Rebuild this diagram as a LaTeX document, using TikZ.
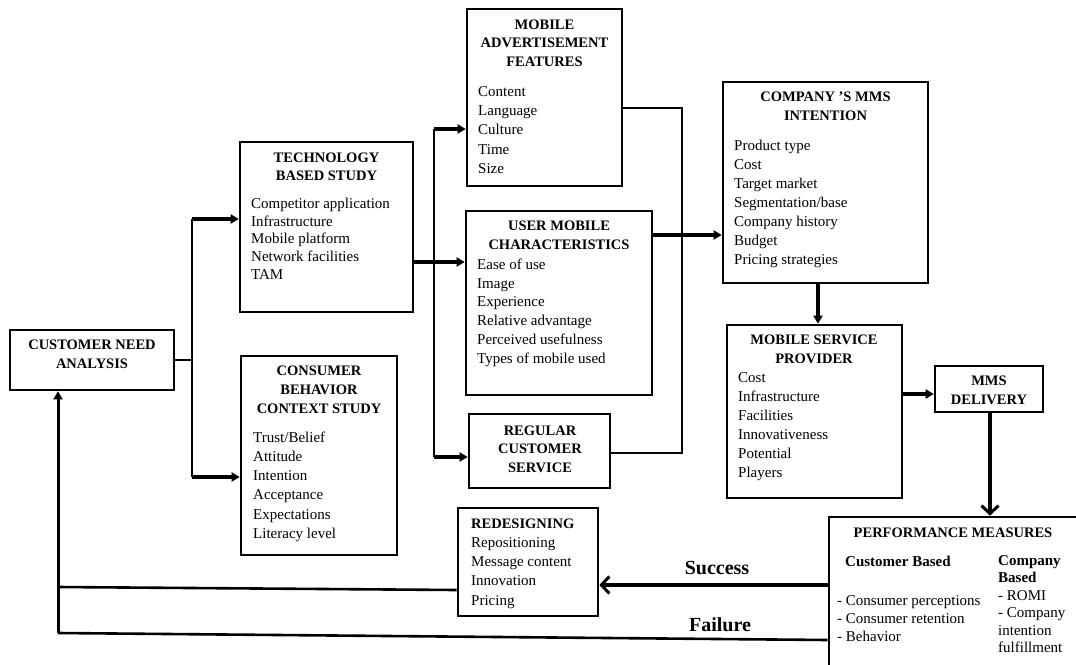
\documentclass[tikz,border=0pt]{standalone}
\usepackage{fontspec}
\setmainfont{Liberation Serif}
\usetikzlibrary{arrows.meta}
\tikzset{
  boxs/.style={draw, line width=2.6pt, inner sep=0pt, fill=white},
  item/.style={font=\fontsize{15}{19}\selectfont, inner sep=0pt},
  ttl/.style={font=\bfseries\fontsize{14.5}{19}\selectfont, inner sep=0pt},
  bitem/.style={font=\bfseries\fontsize{15}{19}\selectfont, inner sep=0pt},
  lbl/.style={font=\bfseries\fontsize{20}{24}\selectfont, inner sep=0pt},
  thinl/.style={line width=2pt},
  fb/.style={line width=2.6pt},
  arr/.style={line width=3.2pt, -{Triangle[length=8pt,width=9pt]}},
  uparr/.style={line width=3pt, -{Triangle[length=8pt,width=9pt]}},
  barb/.style={line width=3.2pt, -{Straight Barb[length=8pt,width=17pt,line width=3pt]}},
}
\newcommand\mybox[5]{\node[boxs, minimum width={(#4-#2)*1pt}, minimum height={(#5-#3)*1pt}] (#1) at ({(#2+#4)/2},{(#3+#5)/2}) {};}
\newcommand\mylines[7]{\foreach \txt [count=\i] in {#7} {\node[#2, anchor=#3] (#1-\i) at ({#4},{#5+#6*(\i-1)}) {\txt};}}
\begin{document}
\begin{tikzpicture}[x=1pt,y=-1pt]
\useasboundingbox (0,0) rectangle (1076,664);
\clip (0,0) rectangle (1076,664);
\fill[white] (0,0) rectangle (1076,664);

% boxes
\mybox{cna}{10}{330}{174}{390}
\mybox{tbs}{240}{142}{413}{312}
\mybox{cbcs}{241}{356}{397}{555}
\mybox{maf}{467}{9}{622}{186}
\mybox{umc}{466}{211}{652}{395}
\mybox{rcs}{469}{414}{610}{488}
\mybox{cmi}{723}{82}{928}{283}
\mybox{msp}{727}{325}{902}{498}
\mybox{mms}{935}{366}{1043}{412}
\mybox{red}{458}{508}{598}{616}
\mybox{pm}{829}{517}{1086}{676}

% texts
\mylines{cnat}{ttl}{mid}{92}{347}{19}{CUSTOMER NEED,ANALYSIS}
\mylines{tbst}{ttl}{mid}{326.5}{160}{18}{TECHNOLOGY,BASED STUDY}
\mylines{tbsi}{item}{mid west}{251}{206}{17.75}{Competitor application,Infrastructure,Mobile platform,Network facilities,TAM}
\mylines{cbcst}{ttl}{mid}{319}{373}{19}{CONSUMER,BEHAVIOR,CONTEXT STUDY}
\mylines{cbcsi}{item}{mid west}{253}{440}{19.2}{Trust/Belief,Attitude,Intention,Acceptance,Expectations,Literacy level}
\mylines{maft}{ttl}{mid}{544.5}{27}{18.5}{MOBILE,ADVERTISEMENT,FEATURES}
\mylines{mafi}{item}{mid west}{478}{94}{19.25}{Content,Language,Culture,Time,Size}
\mylines{umct}{ttl}{mid}{559}{228}{19}{USER MOBILE,CHARACTERISTICS}
\mylines{umci}{item}{mid west}{477}{267}{18.8}{Ease of use,Image,Experience,Relative advantage,Perceived usefulness,Types of mobile used}
\mylines{rcst}{ttl}{mid}{540}{433}{18.5}{REGULAR,CUSTOMER,SERVICE}
\mylines{cmit}{ttl}{mid}{825.5}{99}{19}{COMPANY 'S MMS,INTENTION}
\mylines{cmii}{item}{mid west}{734}{148}{19}{Product type,Cost,Target market,Segmentation/base,Company history,Budget,Pricing strategies}
\mylines{mspt}{ttl}{mid}{814}{342}{19}{MOBILE SERVICE,PROVIDER}
\mylines{mspi}{item}{mid west}{738}{380}{19}{Cost,Infrastructure,Facilities,Innovativeness,Potential,Players}
\mylines{mmst}{ttl}{mid}{989}{383}{19}{MMS,DELIVERY}
\mylines{redt}{ttl}{mid west}{471}{526}{19}{REDESIGNING}
\mylines{redi}{item}{mid west}{471}{545}{19.3}{Repositioning,Message content,Innovation,Pricing}
\mylines{pmt}{ttl}{mid}{953}{535}{19}{PERFORMANCE MEASURES}
\mylines{pmc}{bitem}{mid west}{845}{564}{19}{Customer Based}
\mylines{pmk}{bitem}{mid west}{998}{563}{17}{Company,Based}
\mylines{pmci}{item}{mid west}{837}{603}{18}{- Consumer perceptions,- Consumer retention,- Behavior}
\mylines{pmki}{item}{mid west}{998}{598}{17.5}{- ROMI,- Company,intention,fulfillment}

% connectors
\coordinate (j1) at (192,360);
\coordinate (b1) at (192,219);
\coordinate (b2) at (192,477);
\draw[thinl] (cna.east) -- (j1);
\draw[thinl] (b1) -- (b2);
\draw[arr] (b1) -- (b1 -| tbs.west);
\draw[arr] (b2) -- (b2 -| cbcs.west);

\coordinate (k1) at (434,129);
\coordinate (k2) at (434,262);
\coordinate (k3) at (434,457);
\draw[thinl] (k1) -- (k3);
\draw[arr] (tbs.east |- k2) -- (k2 -| umc.west);
\draw[arr] (k1) -- (k1 -| maf.west);
\draw[arr] (k3) -- (k3 -| rcs.west);

\coordinate (m1) at (682,108);
\coordinate (m2) at (682,453);
\draw[thinl] (maf.east |- m1) -- (m1) -- (m2) -- (rcs.east |- m2);

\coordinate (u1) at (652,235);
\draw[arr] (umc.east |- u1) -- (u1 -| cmi.west);

\coordinate (c1) at (818,283);
\draw[arr] (cmi.south -| c1) -- (c1 |- msp.north);

\coordinate (p1) at (902,394);
\draw[arr] (msp.east |- p1) -- (p1 -| mms.west);

\coordinate (d1) at (990,412);
\draw[barb] (mms.south -| d1) -- (d1 |- pm.north);

\coordinate (s1) at (829,585);
\draw[barb] (pm.west |- s1) -- (s1 -| red.east);
\node[lbl] (succ) at (717,568) {Success};

\coordinate (f0) at (58,633);
\coordinate (f1) at (829,640);
\draw[fb] (pm.west |- f1) -- (f0);
\node[lbl] (fail) at (720,625) {Failure};

\coordinate (r0) at (58,587);
\coordinate (r1) at (458,590);
\draw[fb] (red.west |- r1) -- (r0);
\draw[uparr] (f0) -- (f0 |- cna.south);
\end{tikzpicture}
\end{document}
